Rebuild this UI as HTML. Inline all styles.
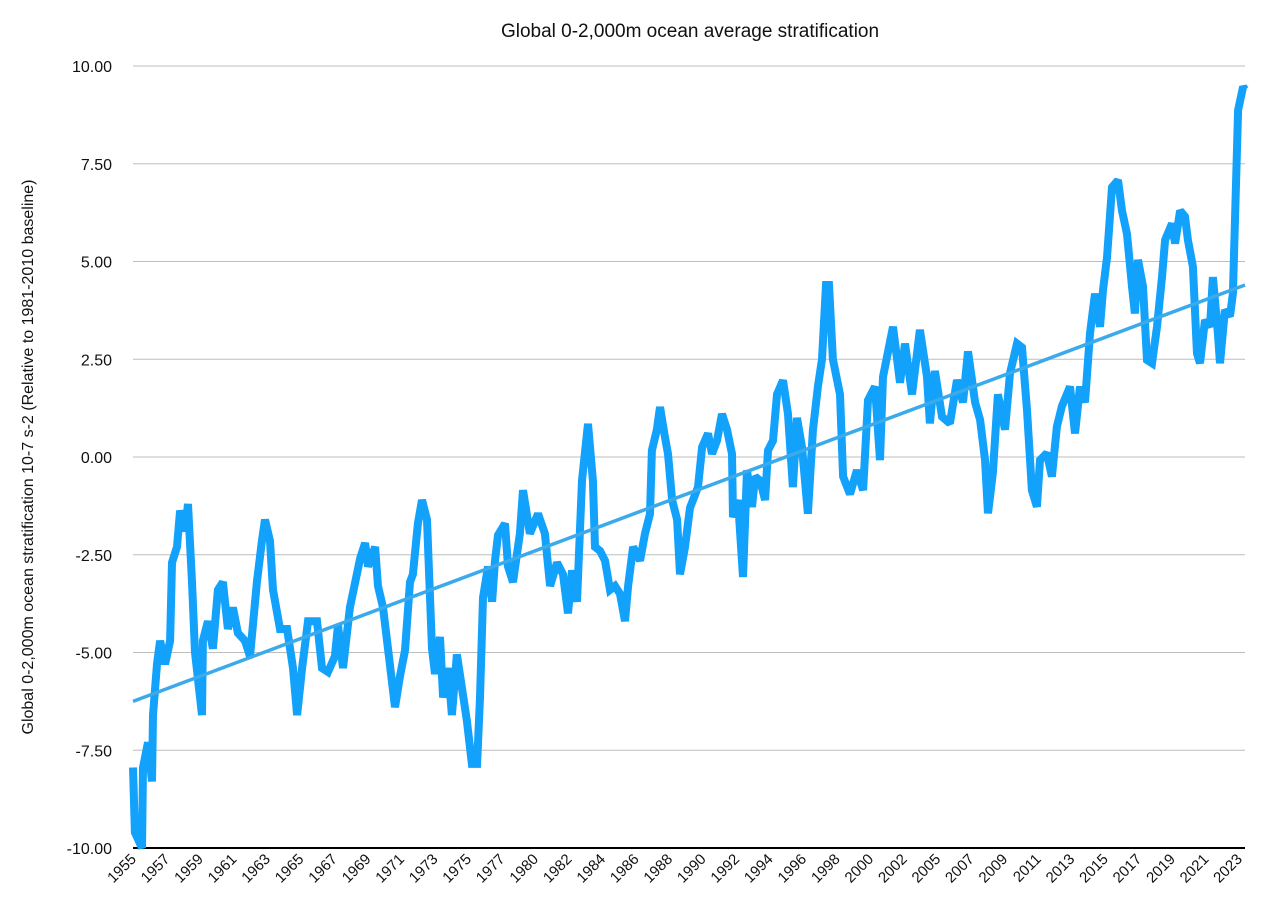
<!DOCTYPE html>
<html><head><meta charset="utf-8"><style>
body{margin:0;background:#fff;}
svg text{font-family:"Liberation Sans",Arial,sans-serif;fill:#111;}
</style></head><body>
<svg id="chart" width="1264" height="918" xmlns="http://www.w3.org/2000/svg">
<text x="690" y="37" font-size="19" text-anchor="middle">Global 0-2,000m ocean average stratification</text>
<text transform="translate(33,457) rotate(-90)" font-size="16" text-anchor="middle">Global 0-2,000m ocean stratification 10-7 s-2 (Relative to 1981-2010 baseline)</text>
<g id="grid"></g>
<g id="yticks"></g>
<g id="xticks"></g>
<g id="series"></g>
</svg>
<script>
const yTicks = [10, 7.5, 5, 2.5, 0, -2.5, -5, -7.5, -10];
const xLabels = ["1955","1957","1959","1961","1963","1965","1967","1969","1971","1973","1975","1977","1980","1982","1984","1986","1988","1990","1992","1994","1996","1998","2000","2002","2005","2007","2009","2011","2013","2015","2017","2019","2021","2023"];
const years = [1955.0,1955.12,1955.56,1955.62,1955.93,1956.18,1956.24,1956.49,1956.68,1956.99,1957.30,1957.42,1957.73,1957.92,1958.23,1958.41,1958.66,1958.85,1959.28,1959.34,1959.65,1959.96,1960.27,1960.58,1960.89,1961.20,1961.51,1961.95,1962.26,1962.69,1963.00,1963.19,1963.50,1963.69,1964.12,1964.56,1964.93,1965.18,1965.49,1965.86,1966.42,1966.73,1967.10,1967.53,1967.72,1968.03,1968.46,1969.09,1969.40,1969.58,1970.02,1970.20,1970.51,1970.82,1971.26,1971.57,1971.88,1972.19,1972.37,1972.68,1972.93,1973.24,1973.55,1973.74,1974.05,1974.24,1974.55,1974.79,1975.10,1975.41,1975.72,1976.03,1976.35,1976.53,1976.72,1977.03,1977.28,1977.46,1977.65,1978.08,1978.27,1978.58,1979.01,1979.20,1979.63,1980.13,1980.56,1980.88,1981.31,1981.68,1981.99,1982.24,1982.55,1982.86,1983.23,1983.54,1983.67,1983.98,1984.29,1984.60,1984.91,1985.22,1985.53,1985.72,1986.03,1986.46,1986.77,1987.08,1987.20,1987.51,1987.70,1988.01,1988.20,1988.45,1988.76,1988.94,1989.25,1989.56,1990.06,1990.31,1990.68,1990.93,1991.24,1991.55,1991.86,1992.17,1992.23,1992.54,1992.85,1993.10,1993.41,1993.60,1993.91,1994.22,1994.40,1994.71,1994.96,1995.33,1995.64,1995.95,1996.20,1996.51,1996.88,1997.19,1997.50,1997.75,1998.00,1998.19,1998.43,1998.87,1999.06,1999.49,1999.92,2000.30,2000.61,2001.04,2001.35,2001.54,2002.16,2002.59,2002.90,2003.34,2003.83,2004.27,2004.45,2004.76,2005.20,2005.69,2006.13,2006.50,2006.81,2007.25,2007.56,2007.87,2008.05,2008.36,2008.67,2009.11,2009.42,2009.85,2010.16,2010.47,2010.78,2011.09,2011.28,2011.71,2012.02,2012.33,2012.64,2013.14,2013.45,2013.76,2014.07,2014.38,2014.69,2015.00,2015.19,2015.44,2015.75,2016.12,2016.37,2016.68,2016.99,2017.17,2017.36,2017.67,2017.92,2018.23,2018.54,2018.85,2019.04,2019.47,2019.66,2019.97,2020.28,2020.46,2020.77,2021.02,2021.21,2021.52,2021.83,2022.01,2022.32,2022.45,2022.75,2023.07,2023.25,2023.57,2023.88,2024.0];
const values = [-7.94,-9.6,-10.0,-7.94,-7.3,-8.3,-6.6,-5.3,-4.7,-5.3,-4.7,-2.7,-2.3,-1.37,-1.9,-1.2,-3.2,-5.0,-6.6,-4.7,-4.2,-4.9,-3.4,-3.2,-4.4,-3.85,-4.5,-4.7,-5.1,-3.2,-2.15,-1.6,-2.15,-3.4,-4.4,-4.4,-5.4,-6.6,-5.4,-4.2,-4.2,-5.4,-5.5,-5.1,-4.3,-5.4,-3.85,-2.6,-2.2,-2.8,-2.3,-3.3,-3.85,-4.9,-6.4,-5.6,-4.95,-3.2,-3.0,-1.7,-1.1,-1.6,-4.9,-5.55,-4.6,-6.15,-5.4,-6.6,-5.05,-5.9,-6.75,-7.85,-7.85,-6.15,-3.6,-2.8,-3.7,-2.65,-2.0,-1.7,-2.8,-3.2,-1.96,-0.85,-1.96,-1.45,-1.96,-3.3,-2.7,-3.0,-4.0,-2.9,-3.7,-0.6,0.85,-0.6,-2.3,-2.4,-2.65,-3.4,-3.3,-3.5,-4.2,-3.3,-2.3,-2.65,-1.96,-1.45,0.17,0.7,1.28,0.5,0.08,-1.1,-1.6,-3.0,-2.3,-1.3,-0.77,0.25,0.6,0.08,0.42,1.1,0.7,0.08,-1.54,-1.1,-3.07,-0.34,-1.28,-0.5,-0.6,-1.1,0.17,0.42,1.6,1.96,1.1,-0.77,1.0,0.25,-1.45,0.68,1.8,2.5,4.4,4.4,2.5,1.6,-0.5,-0.95,-0.34,-0.85,1.45,1.8,-0.08,2.05,3.33,1.9,2.9,1.6,3.25,2.05,0.86,2.2,1.03,0.86,1.97,1.4,2.7,1.4,0.95,-0.07,-1.44,-0.4,1.6,0.7,2.14,2.9,2.8,1.2,-0.85,-1.27,-0.08,0.1,-0.5,0.78,1.3,1.8,0.6,1.8,1.4,3.16,4.18,3.33,4.27,5.1,6.9,7.08,6.3,5.7,4.36,3.67,5.04,4.36,2.48,2.4,3.33,4.6,5.55,5.97,5.46,6.3,6.15,5.55,4.87,2.65,2.4,3.5,3.33,4.6,3.16,2.4,3.76,3.6,4.18,8.87,9.47,9.4];
const trendStart = -6.25;
const trendEnd = 4.4;

const NS = "http://www.w3.org/2000/svg";
const X0 = 133, X1 = 1245, Y0 = 848, Y1 = 66;
const xScale = yr => X0 + (yr - 1955) / (2024 - 1955) * (X1 - X0);
const yScale = v => Y0 - (v + 10) / 20 * (Y0 - Y1);
function mk(tag, attrs, parent){const e=document.createElementNS(NS,tag);for(const k in attrs)e.setAttribute(k,attrs[k]);parent.appendChild(e);return e;}

const grid = document.getElementById('grid');
const yt = document.getElementById('yticks');
yTicks.forEach(v => {
  const y = yScale(v);
  if (v !== -10) {
    const l = mk('line',{x1:X0,x2:X1,y1:y,y2:y,stroke:'#bdbdbd','stroke-width':1},grid);
    
    
  }
  const t = mk('text',{x:112,y:y+6,'font-size':16,'text-anchor':'end'},yt);
  t.textContent = v.toFixed(2);
  
  
});
const axis = mk('line',{x1:X0,x2:X1,y1:Y0,y2:Y0,stroke:'#000','stroke-width':2},grid);



const xt = document.getElementById('xticks');
const step = (1243 - 137) / (xLabels.length - 1);
xLabels.forEach((lab, i) => {
  const x = 137 + i * step;
  const t = mk('text',{x:x,y:860,'font-size':15,'text-anchor':'end',transform:`rotate(-45 ${x} 860)`},xt);
  t.textContent = lab;
  
  
});

const s = document.getElementById('series');
const d = years.map((yr,i)=>(i?'L':'M')+xScale(yr).toFixed(1)+','+yScale(values[i]).toFixed(1)).join(' ');
const line = mk('path',{d:d,fill:'none',stroke:'#12a1fb','stroke-width':8,'stroke-linejoin':'miter','stroke-miterlimit':2},s);


const trend = mk('line',{x1:xScale(1955),y1:yScale(trendStart),x2:xScale(2024),y2:yScale(trendEnd),stroke:'#3aaaea','stroke-width':3.5},s);


</script>
</body></html>
